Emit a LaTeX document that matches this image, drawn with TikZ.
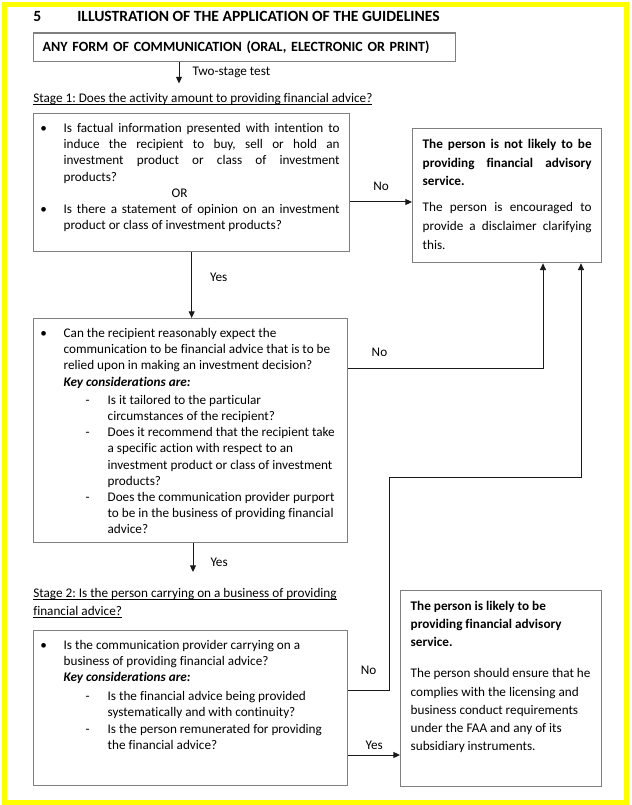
\documentclass[tikz,border=0pt]{standalone}
\usepackage{fontspec}
\setmainfont{Carlito}[Ligatures={NoCommon,NoContextual}]
\usetikzlibrary{arrows.meta,calc}
\definecolor{frame}{HTML}{FFFF00}
\definecolor{edge}{HTML}{7F7F7F}
\definecolor{wire}{HTML}{1A1A1A}
\frenchspacing
\newcommand{\undl}[1]{\leavevmode\setbox0\hbox{#1}\rlap{\rule[-1.6pt]{\wd0}{0.6pt}}\box0}
\newcommand{\bul}{\par\noindent\hangindent=15pt\hangafter=1\makebox[15pt][l]{\hspace{-2.5pt}\textbullet}}
\newcommand{\dsh}{\par\noindent\hangindent=48pt\hangafter=1\hspace*{31.5pt}\makebox[16.5pt][l]{-}}
\newcommand{\keycons}{\textbf{\textit{Key considerations are:}}}
\newcommand{\boxbody}[3]{\parbox[t][#2][t]{#1}{\vspace*{3.75pt}#3}}

\begin{document}
\begin{tikzpicture}[x=0.75pt, y=-0.75pt,
  every node/.style={font=\fontsize{9.9}{12.15}\selectfont, inner sep=0pt},
  box/.style={draw=edge, line width=1pt, anchor=north west, inner xsep=7.5pt, inner ysep=3.5pt},
  side/.style={box, inner ysep=4pt, font=\fontsize{9.9}{14.1}\selectfont},
  head/.style={font=\fontsize{11.7}{14}\selectfont\bfseries},
  arr/.style={-{Triangle[length=5pt,width=4.5pt]}, line width=0.75pt, draw=wire},
  lab/.style={anchor=base west}]
\useasboundingbox (0,0) rectangle (631,805);
\draw[frame, line width=3.75pt] (4.2,5) rectangle (626.3,802.8);

% heading and first box
\node[lab, head] (title) at (33,22) {\makebox[33pt][l]{5}ILLUSTRATION OF THE APPLICATION OF THE GUIDELINES};
\node[box, text width=303pt, inner xsep=6.75pt, minimum height=21.3pt, font=\fontsize{10.55}{13}\selectfont\bfseries] (comm) at (33,32.3) {ANY FORM OF COMMUNICATION (ORAL, ELECTRONIC OR PRINT)};

\coordinate (t1) at (179,83.5);
\coordinate (t2) at (193,572);
\coordinate (no1) at (0,202);
\coordinate (no2) at (543,368);
\coordinate (no3) at (389,690);
\coordinate (no3b) at (581,477);
\coordinate (yes3) at (0,755);

% stage 1
\node[lab] (st1) at (33,102.3) {\undl{Stage 1: Does the activity amount to providing financial advice?}};
\node[box] (b2) at (33,113) {\boxbody{222pt}{96.5pt}{%
  \bul Is factual information presented with intention to\linebreak induce the recipient to buy, sell or hold an\linebreak investment product or class of investment\linebreak products?
  \par\noindent\hspace*{96pt}OR
  \bul Is there a statement of opinion on an investment\linebreak product or class of investment products?}};
\node[side] (nl) at (412,128) {\boxbody{126.75pt}{92.5pt}{%
  \textbf{The person is not likely to be\linebreak providing financial advisory\linebreak service.}
  \par\vspace{5.5pt}The person is encouraged to\linebreak provide a disclaimer clarifying\linebreak this.}};
\node[box] (b3) at (33,318) {\boxbody{220.5pt}{161pt}{\raggedright
  \bul Can the recipient reasonably expect the\newline communication to be financial advice that is to be\newline relied upon in making an investment decision?\newline \keycons
  \par\vspace{1.5pt}\dsh Is it tailored to the particular\newline circumstances of the recipient?
  \dsh Does it recommend that the recipient take\newline a specific action with respect to an\newline investment product or class of investment\newline products?
  \dsh Does the communication provider purport\newline to be in the business of providing financial\newline advice?}};

% stage 2
\node[lab] (st2) at (33,597.3) {\undl{Stage 2: Is the person carrying on a business of providing}};
\node[lab] (st2b) at (33,615.7) {\undl{financial advice?}};
\node[box] (b4) at (33,630) {\boxbody{220.5pt}{109.25pt}{\raggedright
  \bul Is the communication provider carrying on a\newline business of providing financial advice?\newline \keycons
  \par\vspace{2pt}\dsh Is the financial advice being provided\newline systematically and with continuity?
  \dsh Is the person remunerated for providing\newline the financial advice?}};
\node[side, font=\fontsize{9.9}{13.7}\selectfont] (lk) at (400,590) {\boxbody{135.75pt}{139pt}{\raggedright
  \textbf{The person is likely to be\newline providing financial advisory\newline service.}
  \par\vspace{9.5pt}The person should ensure that he\newline complies with the licensing and\newline business conduct requirements\newline under the FAA and any of its\newline subsidiary instruments.}};

% connectors
\draw[arr] (comm.south -| t1) -- (t1) node[midway, right=9.75pt] (ltest) {Two-stage test};
\draw[arr] (b2.east |- no1) -- (nl.west |- no1) node[midway, above=8.25pt] (lno1) {No};
\draw[arr] (b2.south) -- (b2.south |- b3.north) node[pos=0.38, right=13.5pt] (lyes1) {Yes};
\draw[arr] (b3.east |- no2) -| (nl.south -| no2) node[pos=0.08, above=8.25pt] (lno2) {No};
\draw[arr] (b3.south -| t2) -- (t2) node[pos=0.67, right=12.75pt] (lyes2) {Yes};
\draw[arr] (b4.east |- no3) -- (no3) |- (no3b) -- (nl.south -| no3b);
\node[above=11pt] (lno3) at ($(b4.east |- no3)!0.5!(no3)$) {No};
\draw[arr] (b4.east |- yes3) -- (lk.west |- yes3) node[midway, above=3.4pt] (lyes3) {Yes};
\end{tikzpicture}
\end{document}
